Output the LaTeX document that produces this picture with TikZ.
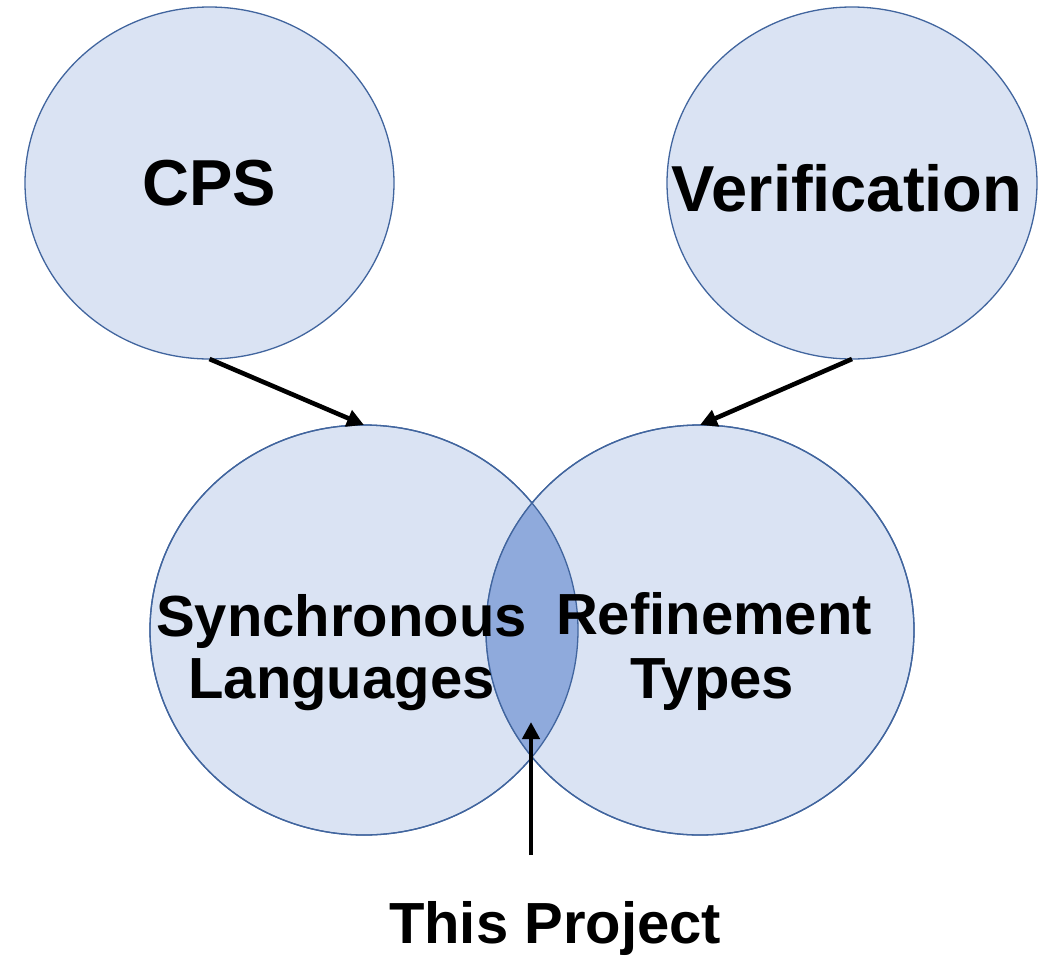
\documentclass[tikz,border=0pt]{standalone}
\usepackage{fontspec}
\setmainfont{Liberation Sans}
\usetikzlibrary{shapes.geometric,arrows.meta}
\definecolor{cfill}{HTML}{DAE3F3}
\definecolor{cline}{HTML}{41659E}
\definecolor{lensfill}{HTML}{8FAADC}
\tikzset{
  topic/.style={ellipse,fill=cfill,draw=cline,line width=1.3pt,inner sep=0pt,outer sep=0pt},
  lbl/.style={anchor=base,font=\bfseries\fontsize{58}{61}\selectfont,inner sep=0pt},
  biglbl/.style={anchor=base,font=\bfseries\fontsize{65}{70}\selectfont,inner sep=0pt},
  arr/.style={line width=4.6pt,-{Triangle[length=17pt,width=17pt]}},
}
\begin{document}
\begin{tikzpicture}[x=1pt,y=-1pt]
\useasboundingbox (0,0) rectangle (1046,956);
\node[topic,minimum width=369pt,minimum height=352pt] (cps) at (209.5,183) {};
\node[topic,minimum width=370pt,minimum height=352pt] (ver) at (852,183) {};
\node[topic,minimum width=428pt,minimum height=410pt] (sync) at (364,630) {};
\node[topic,minimum width=428pt,minimum height=410pt] (ref) at (700,630) {};
\begin{scope}
  \clip (364,630) ellipse [x radius=214, y radius=205];
  \fill[lensfill] (700,630) ellipse [x radius=214, y radius=205];
\end{scope}
\draw[cline,line width=1.3pt] (364,630) ellipse [x radius=214, y radius=205];
\draw[cline,line width=1.3pt] (700,630) ellipse [x radius=214, y radius=205];
\node[biglbl] (cpst) at (209,205) {CPS};
\node[biglbl] (vert) at (847,211) {Verification};
\node[lbl] (sync1) at (341.5,636) {Synchronous};
\node[lbl] (sync2) at (341.5,698) {Languages};
\node[lbl] (ref1) at (714,634) {Refinement};
\node[lbl] (ref2) at (712.5,698) {Types};
\node[lbl] (proj) at (555,943) {This Project};
\coordinate (pstart) at (531,855);
\coordinate (pend) at (531,722);
\draw[arr] (cps.south) -- (sync.north);
\draw[arr] (ver.south) -- (ref.north);
\draw[arr] (pstart) -- (pend);
\end{tikzpicture}
\end{document}
